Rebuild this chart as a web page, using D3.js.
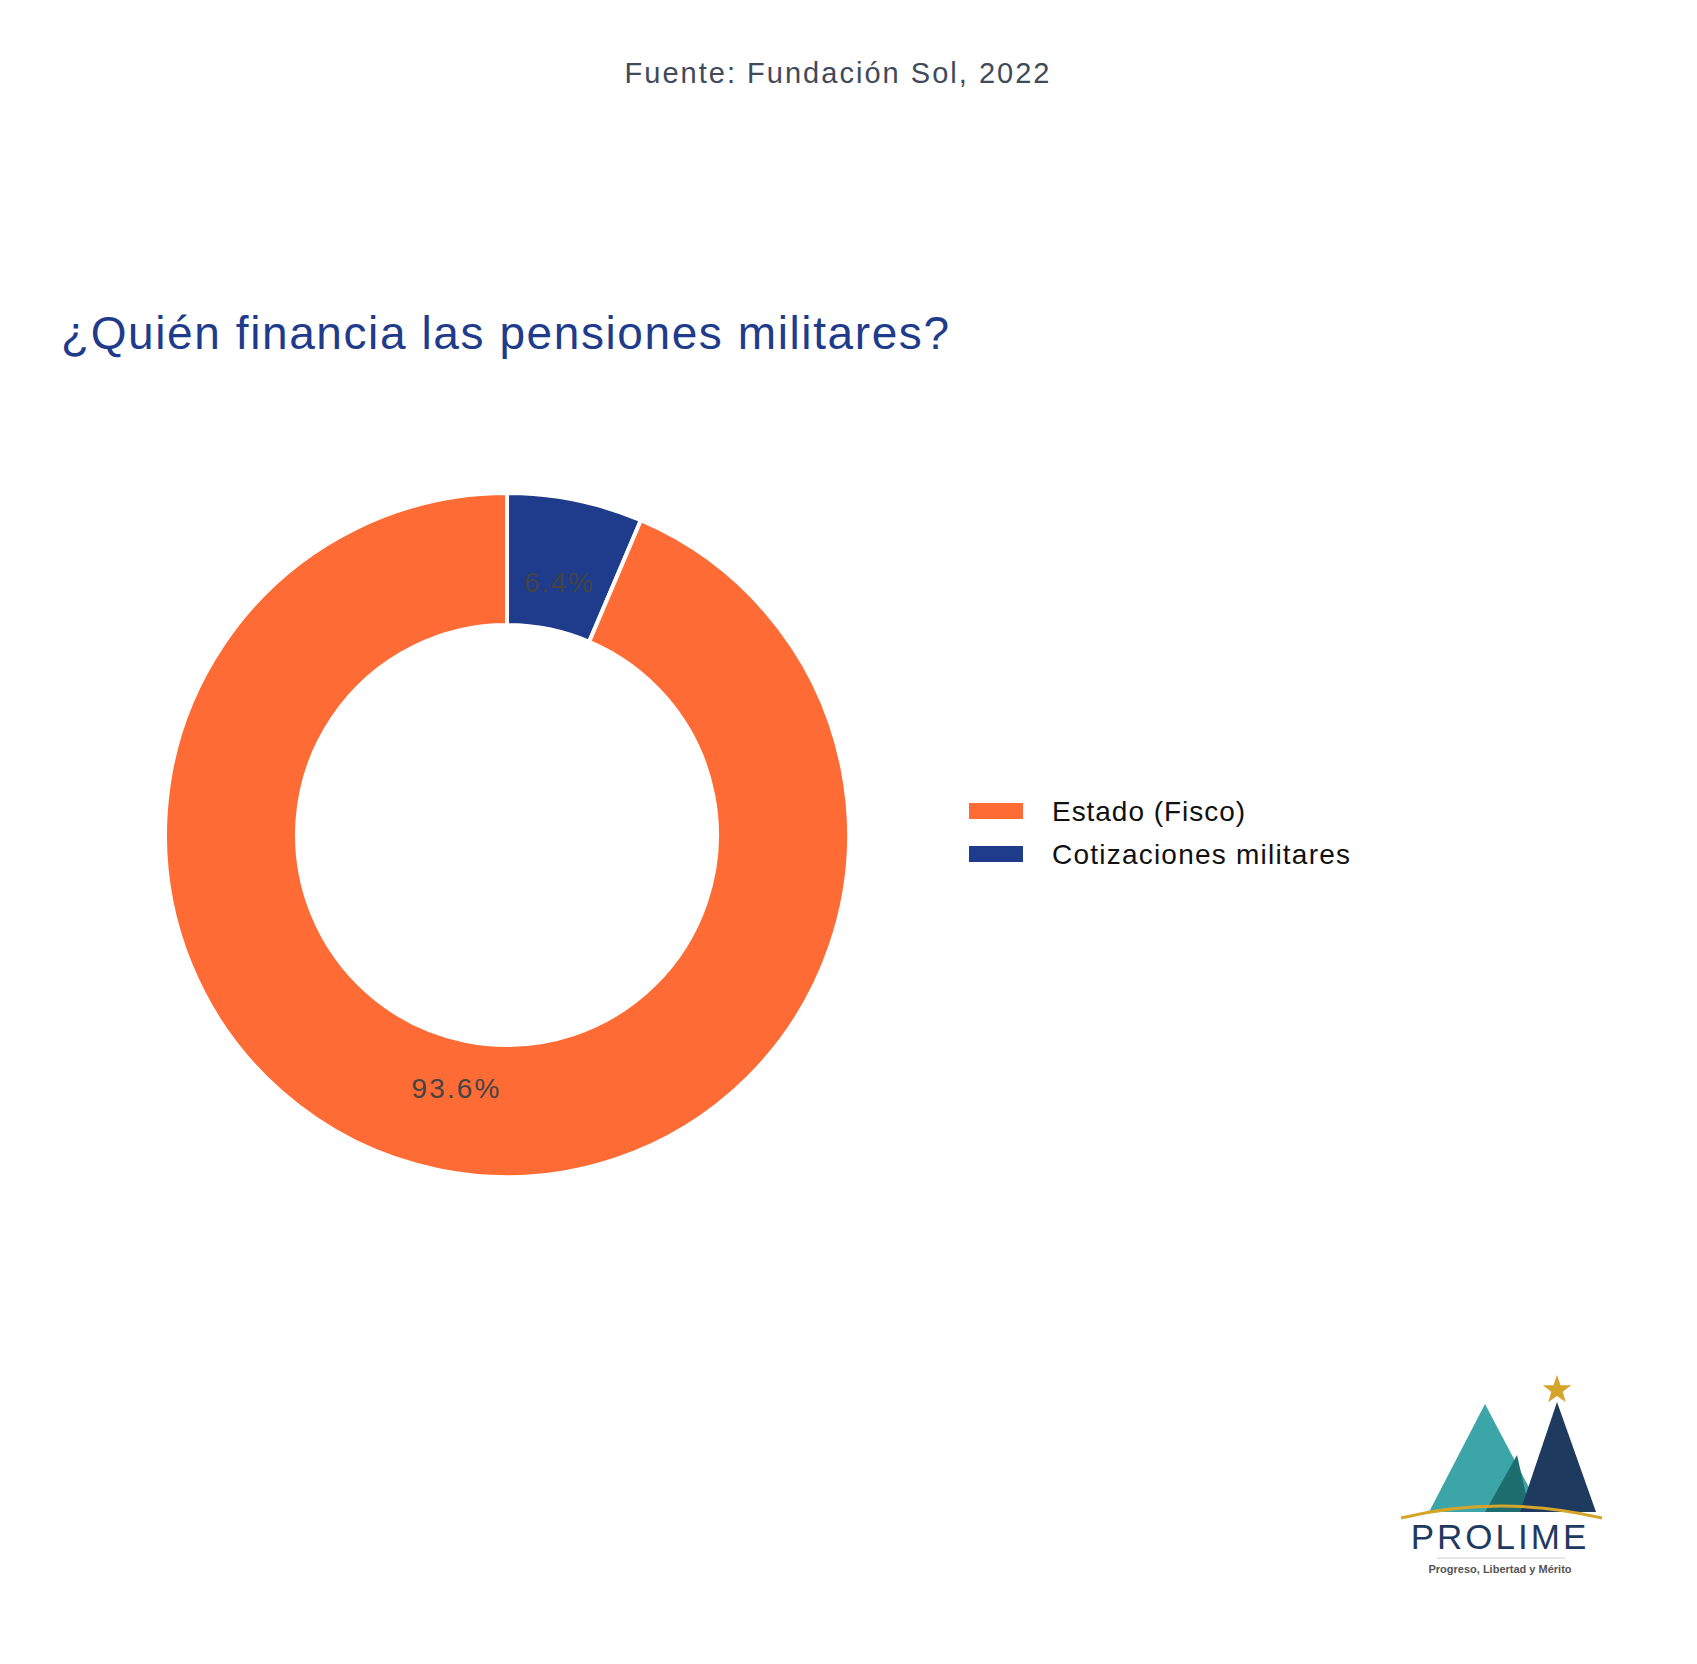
<!DOCTYPE html>
<html><head><meta charset="utf-8">
<script src="https://cdn.jsdelivr.net/npm/d3@7"></script>
<style>body{margin:0;background:#fff}text{font-family:"Liberation Sans",Arial,sans-serif}</style>
</head><body><svg id="c" width="1697" height="1664"></svg>
<script>
const labels = ["Cotizaciones militares", "Estado (Fisco)"];
const values = [6.4, 93.6];
const colors = ["#1f3b8b", "#ff6b35"];
const legendOrder = ["Estado (Fisco)", "Cotizaciones militares"];

const svg = d3.select("#c");
svg.append("text").attr("x",837).attr("y",83).attr("text-anchor","middle")
  .attr("font-size",29).attr("fill","#3f4a5a").attr("textLength",425).attr("lengthAdjust","spacing")
  .text("Fuente: Fundación Sol, 2022");
svg.append("text").attr("x",61).attr("y",349)
  .attr("font-size",46).attr("fill","#1f3b8b").attr("textLength",888).attr("lengthAdjust","spacing")
  .text("¿Quién financia las pensiones militares?");

const cx=507, cy=835, R=342, r0=210;
const pie = d3.pie().sort(null).value(d=>d)(values);
const arc = d3.arc().innerRadius(r0).outerRadius(R);
const g = svg.append("g").attr("transform",`translate(${cx},${cy})`);
g.selectAll("path").data(pie).join("path").attr("d",arc)
  .attr("fill",(d,i)=>colors[i]).attr("stroke","#fff").attr("stroke-width",4);
const la = d3.arc().innerRadius(258).outerRadius(258);
const lw = [69, 88];
g.selectAll("text").data(pie).join("text")
  .attr("transform",d=>`translate(${la.centroid(d)})`)
  .attr("x",(d,i)=>-lw[i]/2).attr("textLength",(d,i)=>lw[i]).attr("lengthAdjust","spacing")
  .attr("dy","0.35em").attr("font-size",28).attr("fill","#444")
  .text((d,i)=>values[i].toFixed(1)+"%");

const lg = svg.append("g");
const legW = [193, 298];
legendOrder.forEach((l,i)=>{
  const y = 811 + i*43;
  lg.append("rect").attr("x",969).attr("y",y-8).attr("width",54).attr("height",16)
    .attr("fill",colors[labels.indexOf(l)]);
  lg.append("text").attr("x",1052).attr("y",y).attr("dy","0.35em").attr("font-size",28)
    .attr("textLength",legW[i]).attr("lengthAdjust","spacing")
    .attr("fill","#111").text(l);
});

// logo
const lo = svg.append("g");
lo.append("path").attr("d","M1485,1404 L1429,1512 L1542,1512 Z").attr("fill","#3ca5a8");
lo.append("path").attr("d","M1517,1455 L1485,1512 L1530,1512 Z").attr("fill","#1d6e6e");
lo.append("path").attr("d","M1557,1402 L1520,1512 L1596,1512 Z").attr("fill","#1f3a5f");
const star = d3.range(10).map(i=>{const a=-Math.PI/2+i*Math.PI/5, rr=i%2?6:15;return [1557+rr*Math.cos(a),1390+rr*Math.sin(a)];});
lo.append("path").attr("d","M"+star.join("L")+"Z").attr("fill","#d4a52a");
lo.append("path").attr("d","M1401,1518 Q1500,1494 1602,1518").attr("fill","none").attr("stroke","#d4a52a").attr("stroke-width",3);
lo.append("text").attr("x",1500).attr("y",1549).attr("text-anchor","middle").attr("font-size",35)
  .attr("letter-spacing",3).attr("fill","#1f3a5f").text("PROLIME");
lo.append("line").attr("x1",1437).attr("x2",1565).attr("y1",1558).attr("y2",1558).attr("stroke","#ccc");
lo.append("text").attr("x",1500).attr("y",1573).attr("text-anchor","middle").attr("font-size",11)
  .attr("font-weight","bold").attr("fill","#555").text("Progreso, Libertad y Mérito");
</script></body></html>
